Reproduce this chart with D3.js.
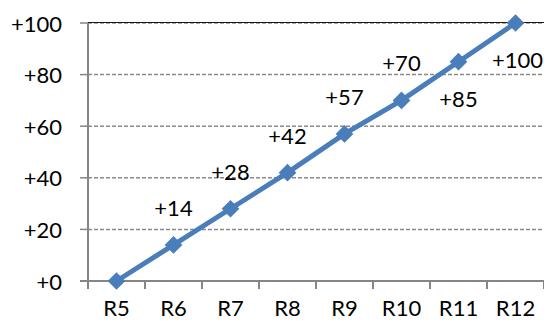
<!DOCTYPE html>
<html>
<head>
<meta charset="utf-8">
<script src="https://cdn.jsdelivr.net/npm/d3@7/dist/d3.min.js"></script>
<style>
  html, body { margin: 0; padding: 0; background: #fff; }
  svg { display: block; }
  text { font-family: Lato, "Open Sans", sans-serif; fill: #000; }
</style>
</head>
<body>
<svg id="chart" width="544" height="322"></svg>
<script>
// Rounds on the x axis and the cumulative gain reached at each one
const categories = ["R5", "R6", "R7", "R8", "R9", "R10", "R11", "R12"];
const values = [0, 14, 28, 42, 57, 70, 85, 100];
// Where each value label sits relative to its marker
const labelSide = ["none", "above", "above", "above", "above", "above", "below", "below"];
const yTicks = [0, 20, 40, 60, 80, 100];

const svg = d3.select("#chart");
const plotLeft = 88, plotRight = 544, plotTop = 23, plotBottom = 281;

const x = d3.scaleBand().domain(categories).range([plotLeft, plotRight]).padding(0);
const y = d3.scaleLinear().domain([0, 100]).range([plotBottom, plotTop]);
const fmt = v => "+" + v;
const blue = "#4A7EBB";
const axisGray = "#868686";

// Horizontal gridlines (dashed), with short ticks left of the axis
const grid = svg.append("g");
grid.selectAll("line.grid")
  .data(yTicks.filter(d => d > 0))
  .join("line")
  .attr("class", "grid")
  .attr("x1", plotLeft).attr("x2", plotRight)
  .attr("y1", d => y(d)).attr("y2", d => y(d))
  .attr("stroke", "#8a8a8a").attr("stroke-width", 1.5)
  .attr("stroke-dasharray", "4,2");
grid.selectAll("line.ytick")
  .data(yTicks)
  .join("line")
  .attr("class", "ytick")
  .attr("x1", plotLeft - 8).attr("x2", plotLeft)
  .attr("y1", d => y(d)).attr("y2", d => y(d))
  .attr("stroke", axisGray).attr("stroke-width", 1.5);

// Top border of the plot area
svg.append("line")
  .attr("x1", plotLeft).attr("x2", plotRight)
  .attr("y1", y(100) - 0.5).attr("y2", y(100) - 0.5)
  .attr("stroke", "#1a1a1a").attr("stroke-width", 1.2);

// Y axis labels
svg.append("g").selectAll("text")
  .data(yTicks)
  .join("text")
  .attr("x", 62).attr("y", d => y(d))
  .attr("text-anchor", "end")
  .attr("dominant-baseline", "central")
  .style("font-size", "22px")
  .text(fmt);

// Axis lines
svg.append("line")
  .attr("x1", plotLeft).attr("x2", plotLeft)
  .attr("y1", plotTop).attr("y2", plotBottom)
  .attr("stroke", axisGray).attr("stroke-width", 2);
svg.append("line")
  .attr("x1", plotLeft - 8).attr("x2", plotRight)
  .attr("y1", plotBottom).attr("y2", plotBottom)
  .attr("stroke", axisGray).attr("stroke-width", 2);

// X ticks at band boundaries
const boundaries = categories.map(c => x(c)).concat([plotRight]);
svg.append("g").selectAll("line")
  .data(boundaries)
  .join("line")
  .attr("x1", d => d).attr("x2", d => d)
  .attr("y1", plotBottom).attr("y2", plotBottom + 8)
  .attr("stroke", axisGray).attr("stroke-width", 2);

// X labels
svg.append("g").selectAll("text")
  .data(categories)
  .join("text")
  .attr("x", d => x(d) + x.bandwidth() / 2)
  .attr("y", 316)
  .attr("text-anchor", "middle")
  .style("font-size", "22px")
  .text(d => d);

// Series line
const cx = (d, i) => x(categories[i]) + x.bandwidth() / 2;
const line = d3.line().x((d, i) => cx(d, i)).y(d => y(d));
svg.append("path")
  .datum(values)
  .attr("d", line)
  .attr("fill", "none")
  .attr("stroke", blue)
  .attr("stroke-width", 5)
  .attr("stroke-linejoin", "round");

// Diamond markers
const diamond = d3.symbol().type(d3.symbolDiamond2).size(200);
svg.append("g").selectAll("path")
  .data(values)
  .join("path")
  .attr("transform", (d, i) => `translate(${cx(d, i)},${y(d)})`)
  .attr("d", diamond)
  .attr("fill", blue);

// Value labels
svg.append("g").selectAll("text")
  .data(values.map((v, i) => ({ v, i })).filter(d => labelSide[d.i] !== "none"))
  .join("text")
  .attr("x", d => cx(d.v, d.i) + (d.i === 7 ? 2 : 0))
  .attr("y", d => y(d.v) + (labelSide[d.i] === "above" ? -29 : 45))
  .attr("text-anchor", "middle")
  .style("font-size", "22px")
  .text(d => fmt(d.v));
</script>
</body>
</html>
